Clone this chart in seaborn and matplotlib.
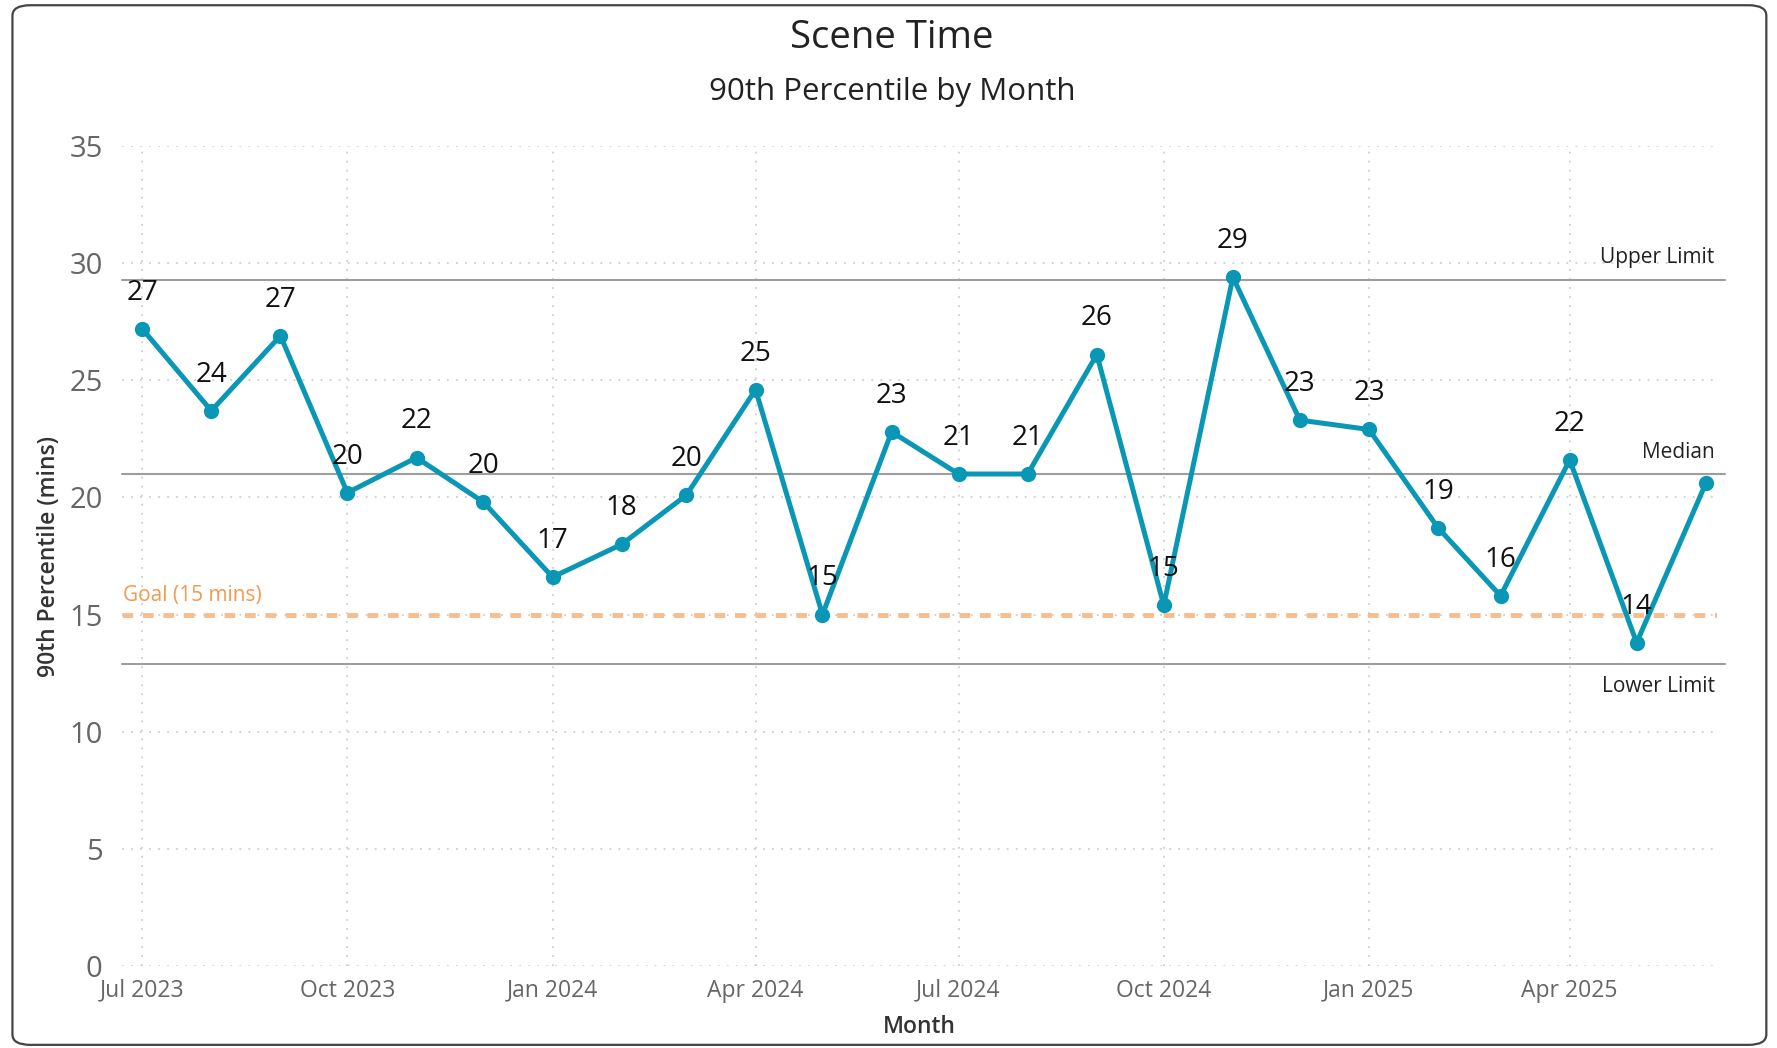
import pandas as pd
import seaborn as sns
import matplotlib.pyplot as plt
import matplotlib.dates as mdates
from matplotlib.patches import FancyBboxPatch

# Data
months = pd.date_range("2023-07-01", "2025-06-01", freq="MS")
p90_mins = [27.2, 23.7, 26.9, 20.2, 21.7, 19.8, 16.6, 18.0, 20.1, 24.6, 15.0, 22.8,
            21.0, 21.0, 26.1, 15.4, 29.4, 23.3, 22.9, 18.7, 15.8, 21.6, 13.8, 20.6]
point_labels = ["27", "24", "27", "20", "22", "20", "17", "18", "20", "25", "15", "23",
                "21", "21", "26", "15", "29", "23", "23", "19", "16", "22", "14", None]
upper_limit = 29.3
median_line = 21.0
lower_limit = 12.9
goal = 15

LINE_COLOR = "#0A97B5"
GOAL_COLOR = "#F8BD8E"
GOAL_TEXT = "#F39A4F"
REF_COLOR = "#9E9E9E"


def main():
    sns.set_theme(style="white")
    plt.rcParams["font.family"] = ["Open Sans", "DejaVu Sans"]

    df = pd.DataFrame({"Month": months, "p90": p90_mins})

    fig = plt.figure(figsize=(17.77, 10.48), dpi=100)
    ax = fig.add_axes([0.0687, 0.0782, 0.8975, 0.7825])

    # rounded card border
    fig.patches.append(FancyBboxPatch((0.007, 0.003), 0.987, 0.992,
                                      boxstyle="round,pad=0,rounding_size=0.01",
                                      transform=fig.transFigure, fill=False,
                                      edgecolor="#444444", linewidth=1.6, zorder=0))

    # reference lines
    for val, name, below in [(upper_limit, "Upper Limit", False),
                             (median_line, "Median", False),
                             (lower_limit, "Lower Limit", True)]:
        ax.axhline(val, xmax=1.005, color=REF_COLOR, linewidth=1.5, zorder=2, clip_on=False)
        ax.annotate(name, xy=(0.9985, val), xycoords=("axes fraction", "data"),
                    xytext=(0, -9 if below else 8), textcoords="offset points",
                    ha="right", va="top" if below else "bottom",
                    fontsize=15, color="#222222")

    ax.axhline(goal, color=GOAL_COLOR, linewidth=3.5, linestyle=(0, (2.2, 2.0)), zorder=3)
    ax.annotate("Goal (15 mins)", xy=(0.0, goal), xycoords=("axes fraction", "data"),
                xytext=(1, 6), textcoords="offset points", ha="left", va="bottom",
                fontsize=15, color=GOAL_TEXT)

    sns.lineplot(data=df, x="Month", y="p90", ax=ax, color=LINE_COLOR, linewidth=3.6,
                 marker="o", markersize=11, markeredgewidth=0, zorder=4)

    for d, v, lab in zip(df["Month"], df["p90"], point_labels):
        if lab is None:
            continue
        ax.annotate(lab, xy=(d, v), xytext=(0, 26), textcoords="offset points",
                    ha="center", va="center", fontsize=20, color="#111111", zorder=5)

    ax.set_ylim(0, 35)
    ax.set_yticks(range(0, 36, 5))
    ax.set_xlim(pd.Timestamp("2023-06-22"), pd.Timestamp("2025-06-06"))
    ax.xaxis.set_major_locator(mdates.MonthLocator(bymonth=[1, 4, 7, 10]))
    ax.xaxis.set_major_formatter(mdates.DateFormatter("%b %Y"))

    ax.grid(True, axis="both", color="#CFCFCF", linestyle=(0, (1, 4)), linewidth=1.3)
    for s in ax.spines.values():
        s.set_visible(False)

    ax.tick_params(axis="y", labelsize=21, labelcolor="#666666", length=0, pad=14)
    ax.tick_params(axis="x", labelsize=16.5, labelcolor="#666666", length=0, pad=9)

    ax.set_xlabel("Month", fontsize=16.5, fontweight="semibold", color="#333333", labelpad=9)
    ax.set_ylabel("90th Percentile (mins)", fontsize=16.5, fontweight="semibold",
                  color="#333333", labelpad=6)

    fig.text(0.502, 0.964, "Scene Time", ha="center", va="center",
             fontsize=27.5, color="#222222")
    fig.text(0.502, 0.912, "90th Percentile by Month", ha="center", va="center",
             fontsize=22.5, color="#222222")

    fig.savefig("out.png", dpi=100)
    plt.close(fig)


if __name__ == "__main__":
    main()
